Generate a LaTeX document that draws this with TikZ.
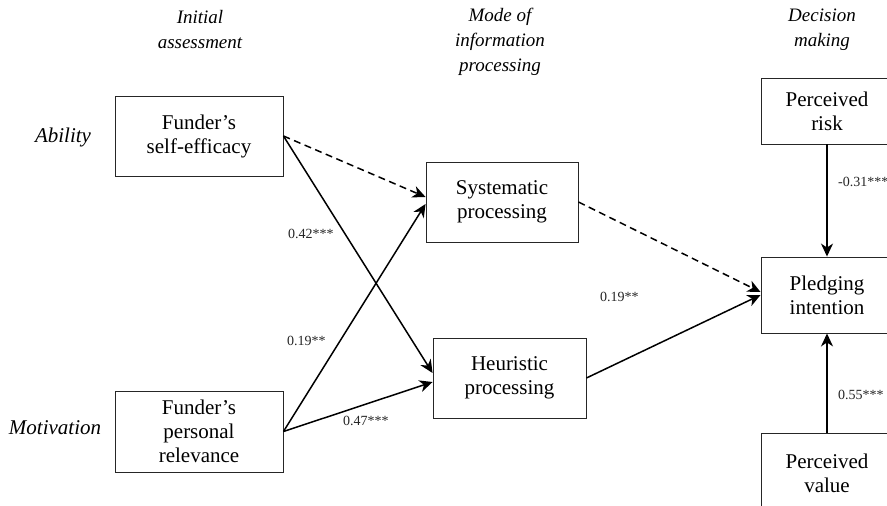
\documentclass[tikz,border=0pt]{standalone}
\usepackage{fontspec}
\setmainfont{Liberation Serif}
\usetikzlibrary{arrows.meta,positioning}

\tikzset{
  box/.style={draw=black!85, line width=0.9pt, inner sep=0pt, align=center,
    font=\fontsize{21}{24}\selectfont},
  head/.style={align=center, font=\fontsize{19}{25}\selectfont\itshape},
  side/.style={font=\fontsize{21}{24}\selectfont\itshape},
  coef/.style={anchor=west, inner sep=0pt, text=black!85, font=\fontsize{14}{16}\selectfont},
  arr/.style={-{Stealth[length=13pt,width=12pt,inset=4pt]}, line width=1.5pt},
  dashline/.style={dash pattern=on 7pt off 4.5pt},
}

\begin{document}
\begin{tikzpicture}[x=1pt,y=-1pt]
    \useasboundingbox (0,0) rectangle (887,506);
 %the stage headings
    \node[head] (stage1) at (200,29.5) {Initial\\assessment};
    \node[head] (stage2) at (500,42) {Mode of\\information\\processing};
    \node[head] (stage3) at (822,29.5) {Decision\\making};
    \node[side] (ability) at (63,137) {Ability};
    \node[side] (motivation) at (55,428) {Motivation};

    %the boxes
    \node[box, minimum width=168, minimum height=80] (eff) at (199,136) {Funder's\\self-efficacy};
    \node[box, minimum width=168, minimum height=81] (rel) at (199,431.5) {Funder's\\personal\\relevance};
    \node[box, minimum width=152, minimum height=80] (sys) at (502,202) {Systematic\\processing};
    \node[box, minimum width=153, minimum height=80] (heu) at (509.5,378) {Heuristic\\processing};
    \node[box, minimum width=132, minimum height=66] (risk) at (827,111) {Perceived\\risk};
    \node[box, minimum width=132, minimum height=76] (pledge) at (827,295) {Pledging\\intention};
    \node[box, minimum width=132, minimum height=80] (value) at (827,473) {Perceived\\value};

    %the arrows
    \begin{scope}[every path/.style={arr}]
       \draw[dashline] (eff.east) -- ([yshift=5pt]sys.west);
       \draw (eff.east) -- ([yshift=5pt]heu.west);
       \draw (rel.east) -- ([yshift=-2pt]sys.west);
       \draw (rel.east) -- ([yshift=-4pt]heu.west);
       \draw[dashline] (sys.east) -- ([yshift=3pt]pledge.west);
       \draw (heu.east) -- (pledge.west);
       \draw (risk.south) -- (pledge.north);
       \draw (value.north) -- (pledge.south);
    \end{scope}

    %path coefficients
    \node[coef] (c1) at (288,234) {0.42***};
    \node[coef] (c2) at (287,341) {0.19**};
    \node[coef] (c3) at (343,421) {0.47***};
    \node[coef] (c4) at (600,297) {0.19**};
    \node[coef] (c5) at (838,182) {-0.31***};
    \node[coef] (c6) at (838,395) {0.55***};
\end{tikzpicture}
\end{document}
